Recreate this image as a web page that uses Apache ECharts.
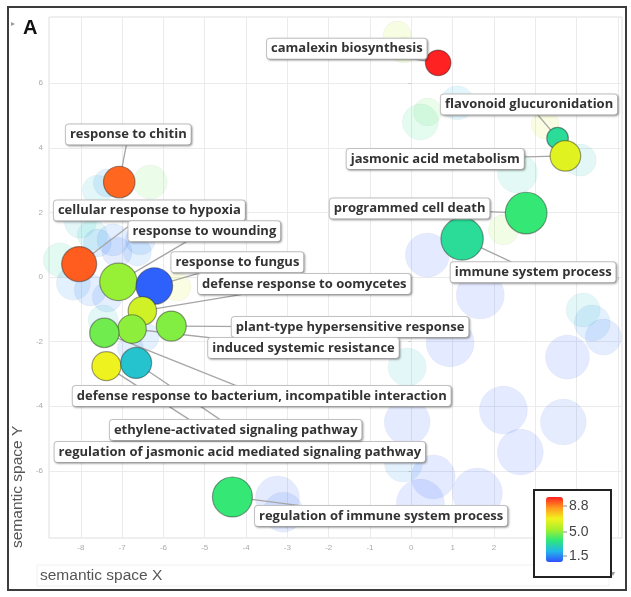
<!DOCTYPE html>
<html><head><meta charset="utf-8">
<script src="https://cdn.jsdelivr.net/npm/echarts@6/dist/echarts.min.js"></script>
<style>html,body{margin:0;padding:0;background:#fff}#c{width:631px;height:597px}</style>
</head><body><div id="c"></div>
<script>
// ---- labelled GO terms ----
const termNames = ['camalexin biosynthesis','flavonoid glucuronidation','jasmonic acid metabolism','programmed cell death','immune system process','response to chitin','cellular response to hypoxia','response to wounding','response to fungus','defense response to oomycetes','plant-type hypersensitive response','induced systemic resistance','defense response to bacterium, incompatible interaction','regulation of jasmonic acid mediated signaling pathway','ethylene-activated signaling pathway','regulation of immune system process'];
const termX = [0.65, 3.54, 3.73, 2.78, 1.23, -7.07, -8.04, -7.09, -6.22, -6.51, -5.81, -6.76, -7.43, -7.38, -6.66, -4.33];
const termY = [6.63, 4.30, 3.75, 1.98, 1.18, 2.94, 0.40, -0.15, -0.28, -1.05, -1.52, -1.61, -1.73, -2.76, -2.66, -6.81];
const termValue = [8.8, 3.6, 6.1, 4.0, 3.6, 8.1, 8.2, 5.0, 1.7, 5.8, 4.8, 4.9, 4.6, 6.3, 3.0, 4.0];
const termLogSize = [2.13, 1.80, 2.55, 3.47, 3.53, 2.63, 2.92, 3.12, 3.05, 2.37, 2.50, 2.38, 2.45, 2.42, 2.58, 3.33];
// label anchor positions (semantic space coordinates)
const labelX = [-1.56, 2.85, 0.58, -0.04, 2.95, -6.85, -6.34, -5.01, -4.21, -2.59, -1.48, -2.61, -3.62, -4.15, -4.25, -0.73];
const labelY = [7.07, 5.34, 3.65, 2.12, 0.15, 4.41, 2.06, 1.42, 0.46, -0.22, -1.55, -2.20, -3.68, -5.42, -4.74, -7.40];

// ---- unlabelled (background) terms ----
const bgX = [-6.32,-7.60,-7.36,-8.01,-7.72,-7.22,-7.12,-7.60,-6.56,-6.63,-8.50,-8.18,-7.77,-7.36,-5.67,-7.46,-6.44,-6.80,-0.34,-0.19,1.11,0.39,0.22,3.24,4.09,2.57,2.23,0.39,1.67,4.16,4.38,4.65,3.78,0.94,-0.10,2.23,3.68,2.64,-0.10,-0.19,0.53,0.22,1.60,-3.24,-3.10];
const bgY = [2.94,2.69,2.91,1.70,1.30,1.15,0.77,1.05,1.15,0.77,0.53,-0.19,-0.40,-0.62,-0.31,-1.33,-1.86,-2.20,7.49,7.03,5.39,5.11,4.80,4.71,3.62,3.22,1.46,0.68,-0.56,-1.02,-1.42,-1.86,-2.48,-2.04,-2.79,-4.12,-4.49,-5.42,-4.49,-5.76,-6.19,-7.00,-6.69,-6.84,-7.28];
const bgValue = [4.5,3.0,2.2,3.0,3.1,2.0,1.8,2.1,2.0,2.2,3.5,2.2,2.0,2.0,6.0,3.2,2.2,2.0,5.5,5.2,2.8,4.4,3.8,6.0,3.2,3.3,5.0,1.6,1.6,3.0,2.2,1.9,1.6,1.6,3.0,1.6,1.8,1.6,1.7,2.3,1.6,1.6,1.6,1.7,1.8];
const bgLogSize = [2.83,2.5,2.33,2.67,2.5,2.67,2.5,2.33,2.5,2.33,2.83,2.83,2.67,2.5,2.33,2.5,2.33,2.17,2.33,2.17,2.83,2.33,3.0,2.33,2.67,3.33,2.5,3.67,4.0,2.83,3.0,3.0,3.67,4.0,3.17,4.0,3.83,3.83,3.83,3.17,3.67,4.0,4.17,3.67,3.33];

// ---- axes / legend ticks ----
const xTicks = [-8,-7,-6,-5,-4,-3,-2,-1,0,1,2,3,4,5];
const xTickLabels = [-8,-7,-6,-5,-4,-3,-2,-1,0,1,2,3,4];
const yTicks = [-6,-4,-2,0,2,4,6];
const legendTickValues = [8.8, 5.0, 1.5];
const legendTickLabels = ['8.8', '5.0', '1.5'];

const X_MIN = -8.77, X_MAX = 5.1, Y_MIN = -8.08, Y_MAX = 8.05;
const GRID = {left: 49, right: 9, top: 17, bottom: 59};
const W = 631, H = 597;

const chart = echarts.init(document.getElementById('c'), null, {renderer: 'canvas'});

function toPx(x, y) {
  try {
    const p = chart.convertToPixel({gridIndex: 0}, [x, y]);
    if (p && isFinite(p[0]) && isFinite(p[1])) return p;
  } catch (e) {}
  const w = W - GRID.left - GRID.right, h = H - GRID.top - GRID.bottom;
  return [GRID.left + (x - X_MIN) / (X_MAX - X_MIN) * w, GRID.top + (Y_MAX - y) / (Y_MAX - Y_MIN) * h];
}

const termData = termNames.map((n, i) => ({name: n, value: [termX[i], termY[i], termValue[i], termLogSize[i]]}));
const bgData = bgX.map((x, i) => ({value: [x, bgY[i], bgValue[i], bgLogSize[i]]}));
const leaderData = termNames.map((n, i) => ({coords: [[termX[i], termY[i]], [labelX[i], labelY[i]]]}));

// legend scale: value -> pixel y
const LEG_TOP_VAL_Y = 506, LEG_BOT_VAL_Y = 556;
function legendY(v) { return LEG_BOT_VAL_Y - (v - 1.5) / (8.8 - 1.5) * (LEG_BOT_VAL_Y - LEG_TOP_VAL_Y); }

const graphics = [
  {type: 'rect', shape: {x: 8, y: 7, width: 618, height: 583}, style: {fill: 'none', stroke: '#3c3c3c', lineWidth: 2}, z: 10, silent: true},
  {type: 'rect', shape: {x: 37, y: 565, width: 572, height: 21}, style: {fill: 'none', stroke: '#f1f1f1', lineWidth: 1}, silent: true},
  {type: 'text', x: 40, y: 576, style: {text: 'semantic space X', font: '15.5px "Liberation Sans", Arial, sans-serif', fill: '#555', textVerticalAlign: 'middle'}, silent: true},
  {type: 'text', x: 18, y: 548, rotation: Math.PI / 2, style: {text: 'semantic space Y', font: '15.5px "Liberation Sans", Arial, sans-serif', fill: '#555', textAlign: 'left', textVerticalAlign: 'middle'}, silent: true},
  {type: 'text', x: 23, y: 28, style: {text: 'A', font: 'bold 20px "Liberation Sans", Arial, sans-serif', fill: '#111', textVerticalAlign: 'middle'}, silent: true},
  {type: 'text', x: 11, y: 24, style: {text: '▸', font: '8px "DejaVu Sans"', fill: '#999', textVerticalAlign: 'middle'}, silent: true},
  {type: 'text', x: 611, y: 574, style: {text: '▾', font: '8px "DejaVu Sans"', fill: '#999', textVerticalAlign: 'middle'}, silent: true},
  {type: 'rect', shape: {x: 534, y: 490, width: 77, height: 87}, style: {fill: '#fff', stroke: '#222', lineWidth: 2}, z: 3, silent: true}
];
legendTickValues.forEach((v, i) => {
  const y = legendY(v);
  graphics.push({type: 'line', shape: {x1: 563, y1: y, x2: 567, y2: y}, style: {stroke: '#888', lineWidth: 1}, z: 6, silent: true});
  graphics.push({type: 'text', x: 569, y: y, style: {text: legendTickLabels[i], font: '14px "Liberation Sans", Arial, sans-serif', fill: '#444', textVerticalAlign: 'middle'}, z: 6, silent: true});
});

const option = {
  animation: false,
  backgroundColor: '#fff',
  grid: {left: GRID.left, right: GRID.right, top: GRID.top, bottom: GRID.bottom, show: true, borderColor: '#dedede', borderWidth: 1, backgroundColor: '#fff'},
  xAxis: {
    type: 'value', min: X_MIN, max: X_MAX,
    axisLine: {show: false},
    axisTick: {show: true, customValues: xTicks, length: 3, lineStyle: {color: '#ccc'}},
    axisLabel: {customValues: xTickLabels, fontSize: 8, color: '#aaa', margin: 6, fontFamily: 'Liberation Sans'},
    splitLine: {show: true, lineStyle: {color: '#ebebeb'}}
  },
  yAxis: {
    type: 'value', min: Y_MIN, max: Y_MAX,
    axisLine: {show: false},
    axisTick: {show: true, customValues: yTicks, length: 3, lineStyle: {color: '#ccc'}},
    axisLabel: {customValues: yTicks, fontSize: 8, color: '#aaa', margin: 6, fontFamily: 'Liberation Sans'},
    splitLine: {show: true, lineStyle: {color: '#ebebeb'}}
  },
  visualMap: {
    type: 'continuous', min: 1.5, max: 8.8, dimension: 2, seriesIndex: [0, 2],
    inRange: {color: ['#3050ff', '#22b8e8', '#2ee87a', '#a6f02c', '#f2f21e', '#ff9a1e', '#ff2222']},
    calculable: false, show: true, orient: 'vertical', left: 546, top: 497,
    itemWidth: 17, itemHeight: 65, text: null, showLabel: false, padding: 0, z: 5, hoverLink: false
  },
  graphic: graphics,
  series: [
    {
      type: 'scatter', name: 'background', data: bgData, silent: true, z: 2,
      symbolSize: d => d[3] * 12,
      itemStyle: {opacity: 0.13, borderColor: 'rgba(0,0,60,0.25)', borderWidth: 1}
    },
    {
      type: 'lines', name: 'leaders', coordinateSystem: 'cartesian2d', data: leaderData, silent: true, z: 2.5,
      symbol: 'none', lineStyle: {color: '#a6a6a6', width: 1.3, opacity: 1, curveness: 0}
    },
    {
      type: 'scatter', name: 'terms', data: termData, z: 3,
      symbolSize: d => d[3] * 12,
      itemStyle: {opacity: 1, borderColor: 'rgba(40,40,40,0.45)', borderWidth: 1.2},
      label: {
        show: true, formatter: '{b}', color: '#333', fontFamily: '"Open Sans", sans-serif', fontWeight: 'bold', fontSize: 13,
        backgroundColor: '#fff', borderColor: '#c4c4c4', borderWidth: 1, borderRadius: 3, padding: [2, 4, 2, 4], lineHeight: 16,
        shadowColor: 'rgba(0,0,0,0.25)', shadowBlur: 2, shadowOffsetX: 1, shadowOffsetY: 1
      },
      labelLine: {show: false},
      labelLayout: function (params) {
        const i = params.dataIndex;
        const p = toPx(labelX[i], labelY[i]);
        return {x: p[0], y: p[1], align: 'center', verticalAlign: 'middle', hideOverlap: false, moveOverlap: false};
      }
    }
  ]
};
chart.setOption(option);
</script>
</body></html>
